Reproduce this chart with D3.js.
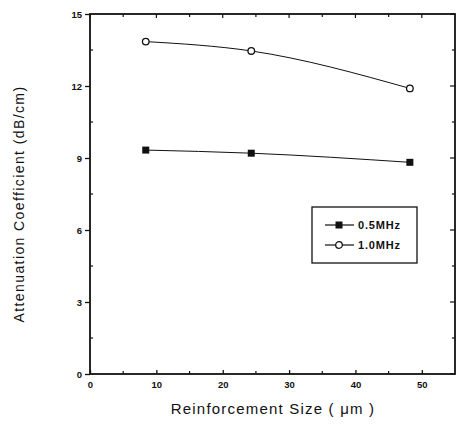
<!DOCTYPE html>
<html>
<head>
<meta charset="utf-8">
<script src="https://cdn.jsdelivr.net/npm/d3@7"></script>
<style>
  body { margin: 0; background: #fff; }
  svg text { font-family: "Liberation Sans", Arial, sans-serif; fill: #111; }
</style>
</head>
<body>
<svg id="chart" width="463" height="429"></svg>
<script>
const sizes = [8.4, 24.3, 48.2];
const half = [9.33, 9.2, 8.82];
const one = [13.85, 13.46, 11.9];
const xTicks = [0, 10, 20, 30, 40, 50];
const yTicks = [0, 3, 6, 9, 12, 15];
const seriesNames = ["0.5MHz", "1.0MHz"];

const svg = d3.select("#chart");
const margin = { top: 14, right: 8, bottom: 55, left: 90 };
const width = 463 - margin.left - margin.right;
const height = 429 - margin.top - margin.bottom;

const x = d3.scaleLinear().domain([0, 55]).range([0, width]);
const y = d3.scaleLinear().domain([0, 15]).range([height, 0]);

const chart = svg.append("g")
  .attr("transform", `translate(${margin.left},${margin.top})`);

// minor ticks on every side
const xMinor = d3.range(5, 55, 10);
const yMinor = d3.range(1.5, 15, 3);

const left = chart.append("g").call(d3.axisLeft(y).tickValues(yTicks).tickSize(5).tickPadding(3));
const bottom = chart.append("g").attr("transform", `translate(0,${height})`)
  .call(d3.axisBottom(x).tickValues(xTicks).tickSize(-4).tickPadding(7));
[left, bottom].forEach((g) => {
  g.select(".domain").remove();
  g.selectAll(".tick line").attr("stroke", "#111").attr("stroke-width", 1.3);
  g.selectAll(".tick text").style("font-size", "9.5px").style("font-weight", "bold");
});

chart.selectAll(".yminor").data(yMinor).join("line")
  .attr("x1", 0).attr("x2", 3).attr("y1", (d) => y(d)).attr("y2", (d) => y(d))
  .attr("stroke", "#111").attr("stroke-width", 1.2);
chart.selectAll(".xminor").data(xMinor).join("line")
  .attr("x1", (d) => x(d)).attr("x2", (d) => x(d)).attr("y1", height).attr("y2", height - 3)
  .attr("stroke", "#111").attr("stroke-width", 1.2);
chart.selectAll(".topt").data(xTicks.concat(xMinor)).join("line")
  .attr("x1", (d) => x(d)).attr("x2", (d) => x(d)).attr("y1", 0).attr("y2", (d) => xTicks.includes(d) ? 4 : 3)
  .attr("stroke", "#111").attr("stroke-width", 1.2);
chart.selectAll(".rightt").data(yTicks.concat(yMinor)).join("line")
  .attr("x1", width).attr("x2", (d) => width - (yTicks.includes(d) ? 5 : 3))
  .attr("y1", (d) => y(d)).attr("y2", (d) => y(d))
  .attr("stroke", "#111").attr("stroke-width", 1.2);

chart.append("rect")
  .attr("width", width).attr("height", height)
  .attr("fill", "none").attr("stroke", "#111").attr("stroke-width", 1.8);

const line = d3.line()
  .x((d, i) => x(sizes[i]))
  .y((d) => y(d))
  .curve(d3.curveMonotoneX);

chart.append("path").datum(half).attr("d", line)
  .attr("fill", "none").attr("stroke", "#111").attr("stroke-width", 1);
chart.append("path").datum(one).attr("d", line)
  .attr("fill", "none").attr("stroke", "#111").attr("stroke-width", 1);

chart.selectAll(".sq").data(half).join("rect")
  .attr("x", (d, i) => x(sizes[i]) - 3.5).attr("y", (d) => y(d) - 3.5)
  .attr("width", 7).attr("height", 7).attr("fill", "#111");
chart.selectAll(".ci").data(one).join("circle")
  .attr("cx", (d, i) => x(sizes[i])).attr("cy", (d) => y(d)).attr("r", 3.3)
  .attr("fill", "#fff").attr("stroke", "#111").attr("stroke-width", 1.3);

// legend
const lg = svg.append("g").attr("transform", "translate(312,207)");
lg.append("rect").attr("width", 105).attr("height", 56)
  .attr("fill", "#fff").attr("stroke", "#111").attr("stroke-width", 1.3);
seriesNames.forEach((name, i) => {
  const row = lg.append("g").attr("transform", `translate(0,${18 + i * 20})`);
  row.append("line").attr("x1", 13).attr("x2", 42).attr("stroke", "#111").attr("stroke-width", 1.2);
  if (i === 0) {
    row.append("rect").attr("x", 23.5).attr("y", -3.5).attr("width", 7).attr("height", 7).attr("fill", "#111");
  } else {
    row.append("circle").attr("cx", 27).attr("r", 3.3)
      .attr("fill", "#fff").attr("stroke", "#111").attr("stroke-width", 1.3);
  }
  row.append("text").attr("x", 46).attr("dy", "0.35em")
    .style("font-size", "11px").style("font-weight", "bold")
    .style("letter-spacing", "0.8px").text(name);
});

svg.append("text")
  .attr("transform", "translate(24,204) rotate(-90)")
  .attr("text-anchor", "middle")
  .style("font-size", "14px")
  .style("letter-spacing", "1.4px")
  .text("Attenuation Coefficient (dB/cm)");

svg.append("text")
  .attr("x", 273).attr("y", 414)
  .attr("text-anchor", "middle")
  .style("font-size", "15px")
  .style("letter-spacing", "1.2px")
  .text("Reinforcement Size ( \u03bcm )");
</script>
</body>
</html>
